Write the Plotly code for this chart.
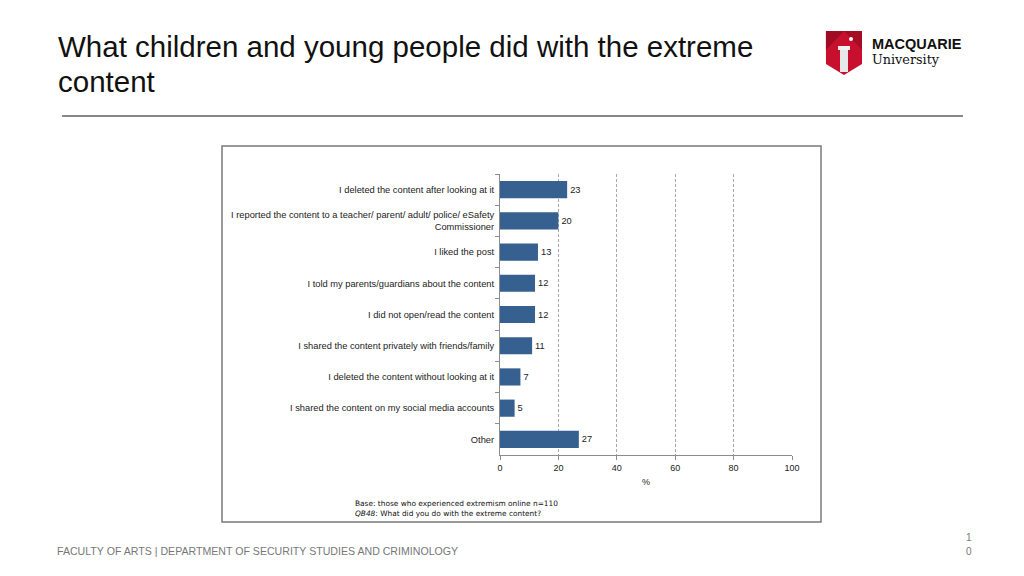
import plotly.graph_objects as go

# ── Data ─────────────────────────────────────────────────────────────────────
categories = [
    "I deleted the content after looking at it",
    "I reported the content to a teacher/ parent/ adult/ police/ eSafety<br>Commissioner",
    "I liked the post",
    "I told my parents/guardians about the content",
    "I did not open/read the content",
    "I shared the content privately with friends/family",
    "I deleted the content without looking at it",
    "I shared the content on my social media accounts",
    "Other",
]
values = [23, 20, 13, 12, 12, 11, 7, 5, 27]
x_ticks = [0, 20, 40, 60, 80, 100]

W, H = 1024, 576
FONT = "Liberation Sans, Arial, sans-serif"


def px(x):
    return x / W


def py(y):
    return 1 - y / H


fig = go.Figure()

fig.add_trace(go.Bar(
    x=values, y=categories, orientation="h",
    marker=dict(color="#36608f", line=dict(width=0)),
    text=[str(v) for v in values], textposition="outside",
    textfont=dict(size=9.3, color="#222", family=FONT),
    cliponaxis=False, hoverinfo="skip", showlegend=False,
))

fig.update_layout(
    width=W, height=H, margin=dict(l=0, r=0, t=0, b=0, autoexpand=False),
    paper_bgcolor="white", plot_bgcolor="white",
    bargap=0.45,
    font=dict(family=FONT, color="#222"),
    xaxis=dict(
        domain=[px(500), px(792)], range=[0, 100], tickvals=x_ticks,
        automargin=False,
        showgrid=True, gridcolor="#a8a8a8", griddash="3px,2px", gridwidth=1,
        showline=True, linecolor="#8c8c8c", linewidth=1,
        ticks="outside", ticklen=4, tickcolor="#8c8c8c",
        tickfont=dict(size=9, color="#222"),
        zeroline=False,
        title=dict(text="%", font=dict(size=9, color="#222"), standoff=6),
    ),
    yaxis=dict(
        domain=[py(455), py(174)], autorange="reversed",
        automargin=False,
        categoryorder="array", categoryarray=categories,
        showline=True, linecolor="#8c8c8c", linewidth=1,
        ticks="outside", ticklen=4, tickcolor="#8c8c8c", tickson="boundaries",
        ticklabelstandoff=3,
        tickfont=dict(size=9.3, color="#222"), showgrid=False,
    ),
)

# chart frame
fig.add_shape(type="rect", xref="paper", yref="paper",
              x0=px(222), x1=px(821), y0=py(522), y1=py(146),
              line=dict(color="#7a7a7a", width=1.5), layer="below")

# title rule
fig.add_shape(type="line", xref="paper", yref="paper",
              x0=px(62), x1=px(963), y0=py(116), y1=py(116),
              line=dict(color="#111", width=1))

# title (two lines)
for txt, yc in [("What children and young people did with the extreme", 46),
                ("content", 81)]:
    fig.add_annotation(x=px(56), y=py(yc), xref="paper", yref="paper",
                       xanchor="left", yanchor="middle", align="left", showarrow=False,
                       text=txt, font=dict(size=29.5, color="#111", family=FONT))

# base note
fig.add_annotation(x=px(353), y=py(497), xref="paper", yref="paper",
                   xanchor="left", yanchor="top", align="left", showarrow=False,
                   text="Base: those who experienced extremism online n=110<br>"
                        "<i>QB48</i>: What did you do with the extreme content?",
                   font=dict(size=7.4, color="#111", family="DejaVu Sans, sans-serif"))

# footer
fig.add_annotation(x=px(55), y=py(551), xref="paper", yref="paper",
                   xanchor="left", yanchor="middle", showarrow=False,
                   text="FACULTY OF ARTS | DEPARTMENT OF SECURITY STUDIES AND CRIMINOLOGY",
                   font=dict(size=10.6, color="#777", family=FONT))
fig.add_annotation(x=px(969), y=py(545), xref="paper", yref="paper", xanchor="center",
                   showarrow=False, text="1", font=dict(size=10, color="#777", family=FONT))
fig.add_annotation(x=px(969), y=py(559), xref="paper", yref="paper", xanchor="center",
                   showarrow=False, text="0", font=dict(size=10, color="#777", family=FONT))

# logo: shield
def P(x, y):
    return f"{px(x):.4f},{py(y):.4f}"

shield = f"M {P(826,31)} L {P(862,31)} L {P(862,64)} L {P(844,75)} L {P(826,64)} Z"
fig.add_shape(type="path", xref="paper", yref="paper", path=shield,
              fillcolor="#c8102e", line=dict(width=0))
fig.add_shape(type="path", xref="paper", yref="paper",
              path=f"M {P(826,31)} L {P(844,31)} L {P(826,50)} Z",
              fillcolor="#9e0b22", line=dict(width=0))
fig.add_shape(type="path", xref="paper", yref="paper",
              path=f"M {P(844,31)} L {P(862,31)} L {P(862,50)} Z",
              fillcolor="#a50d25", line=dict(width=0))
fig.add_shape(type="rect", xref="paper", yref="paper",
              x0=px(840), x1=px(848), y0=py(72), y1=py(48),
              fillcolor="#e8e8e8", line=dict(width=0))
fig.add_shape(type="rect", xref="paper", yref="paper",
              x0=px(838), x1=px(850), y0=py(50), y1=py(46),
              fillcolor="#f2f2f2", line=dict(width=0))
fig.add_shape(type="circle", xref="paper", yref="paper",
              x0=px(849), x1=px(853), y0=py(41), y1=py(37),
              fillcolor="white", line=dict(width=0))
fig.add_annotation(x=px(870), y=py(44), xref="paper", yref="paper",
                   xanchor="left", yanchor="middle", showarrow=False,
                   text="<b>MACQUARIE</b>",
                   font=dict(size=14.5, color="#111", family=FONT))
fig.add_annotation(x=px(870), y=py(59), xref="paper", yref="paper",
                   xanchor="left", yanchor="middle", showarrow=False,
                   text="University",
                   font=dict(size=12.8, color="#111", family="DejaVu Serif, Liberation Serif, serif"))

fig.write_html(
    "out.html",
    config={"displayModeBar": False},
    post_script="document.body.style.margin='0';document.body.style.overflow='hidden';"
                "document.documentElement.style.overflow='hidden';",
)
